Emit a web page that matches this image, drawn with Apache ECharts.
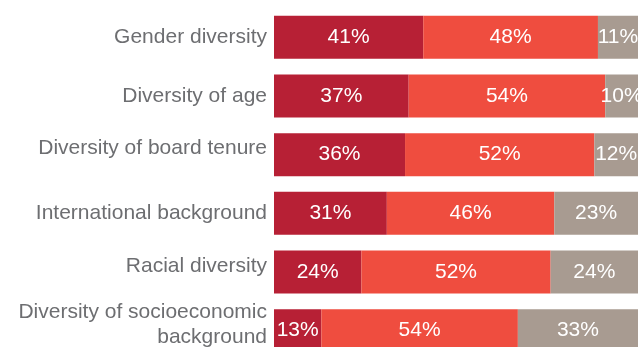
<!DOCTYPE html>
<html>
<head>
<meta charset="utf-8">
<script src="https://cdn.jsdelivr.net/npm/echarts@6/dist/echarts.min.js"></script>
<style>
  html, body { margin: 0; padding: 0; background: #fff; }
  #myChart { width: 638px; height: 347px; }
</style>
</head>
<body>
<div id="myChart"></div>
<script>
// categories, top to bottom
var categories = ['Gender diversity', 'Diversity of age', 'Diversity of board tenure',
  'International background', 'Racial diversity', 'Diversity of socioeconomic\nbackground'];
// labels that sit a little above their bar get an empty spacer line below them
var liftedLabels = ['Diversity of board tenure', 'Racial diversity', 'Diversity of socioeconomic\nbackground'];

var darkData = [41, 37, 36, 31, 24, 13];
var midData = [48, 54, 52, 46, 52, 54];
var greyData = [11, 10, 12, 23, 24, 33];

var colors = ['#b72035', '#ef4d3f', '#a89b91'];

function seg(name, data, color) {
  return {
    name: name,
    type: 'bar',
    stack: 'all',
    data: data,
    barWidth: 43,
    itemStyle: { color: color },
    label: {
      show: true,
      position: 'inside',
      color: '#fff',
      fontSize: 21,
      fontFamily: 'Liberation Sans',
      formatter: '{c}%'
    }
  };
}

var myChart = echarts.init(document.getElementById('myChart'));
var option = {
  animation: false,
  grid: { left: 274, right: 0, top: 8, height: 352, containLabel: false, outerBoundsMode: 'none' },
  xAxis: {
    type: 'value',
    min: 0,
    max: 100,
    show: false
  },
  yAxis: {
    type: 'category',
    inverse: true,
    data: categories,
    axisLine: { show: false },
    axisTick: { show: false },
    axisLabel: {
      margin: 7,
      color: '#6d6e71',
      fontSize: 21,
      lineHeight: 25,
      fontFamily: 'Liberation Sans',
      align: 'right',
      formatter: function (v) {
        var lines = v.split('\n').map(function (l) { return '{t|' + l + '}'; }).join('\n');
        if (liftedLabels.indexOf(v) >= 0) lines += '\n{s| }';
        return lines;
      },
      rich: {
        t: { color: '#6d6e71', fontSize: 21, lineHeight: 25, fontFamily: 'Liberation Sans' },
        s: { fontSize: 1, lineHeight: 12 }
      }
    }
  },
  series: [
    seg('dark', darkData, colors[0]),
    seg('mid', midData, colors[1]),
    seg('grey', greyData, colors[2])
  ]
};
myChart.setOption(option, true);
</script>
</body>
</html>
